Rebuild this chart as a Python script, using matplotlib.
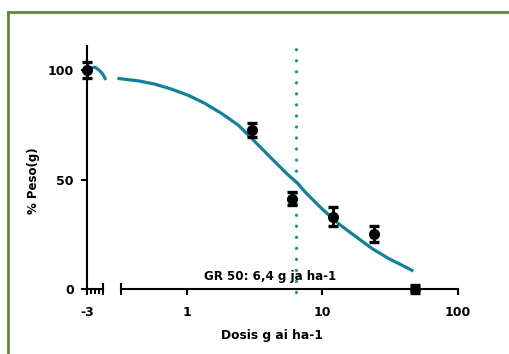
import numpy as np
import matplotlib
matplotlib.use("Agg")
import matplotlib.pyplot as plt
from matplotlib.lines import Line2D
from matplotlib.ticker import NullLocator, FixedLocator

# data (dose in g ai/ha, weight in % of control)
doses = [3, 6, 12, 24, 48]
means = [72.8, 41.3, 33.0, 25.3, 0.0]
sems = [3.2, 3.0, 4.3, 3.7, 2.0]

ctrl_x = -3        # control plotted at log10 = -3
ctrl_mean = 100
ctrl_sem = 3.5

# fitted curve
fit_x = [0.308, 0.437, 0.581, 0.771, 1.022, 1.358, 1.803, 2.39, 3.18, 4.22,
         5.59, 6.56, 7.43, 9.86, 13.1, 17.4, 23.1, 30.6, 40.6, 46.8]
fit_y = [96.2, 95.1, 93.6, 91.3, 88.5, 84.8, 80.2, 74.9, 67.3, 59.6,
         52.1, 48.3, 44.4, 36.8, 29.9, 24.2, 18.6, 14.0, 10.2, 8.2]
# short curve piece in the control segment (log10 scale)
fit0_x = [-2.9, -2.8, -2.7, -2.62, -2.57, -2.53]
fit0_y = [101.0, 101.3, 100.0, 98.5, 97.0, 95.5]

gr50 = 6.4
gr50_label = "GR 50: 6,4 g ja ha-1"

curve_col = "#13809a"
line_col = "#17a072"
frame_col = "#5b8a3a"

W, H = 509, 354
fig = plt.figure(figsize=(W / 100, H / 100), dpi=100)

ax0 = fig.add_axes([87 / W, 65 / H, 16 / W, 243 / H])
ax = fig.add_axes([121 / W, 65 / H, 337 / W, 243 / H])

font = dict(fontweight="bold", family="DejaVu Sans")
err_style = dict(fmt="o", color="k", ms=7, capsize=3.6, capthick=2.4,
                 elinewidth=2, zorder=3)

# --- left segment (control)
ax0.set_xlim(-3, -2.6)
ax0.set_ylim(0, 111)
ax0.patch.set_visible(False)
for s in ("top", "right"):
    ax0.spines[s].set_visible(False)
for s in ("left", "bottom"):
    ax0.spines[s].set_linewidth(1.5)
ax0.set_xticks([-3])
ax0.set_xticklabels(["-3"], **font, fontsize=9)
ax0.xaxis.set_minor_locator(FixedLocator([-2.9, -2.8, -2.7]))
ax0.set_yticks([0, 50, 100])
ax0.set_yticklabels(["0", "50", "100"], **font, fontsize=9)
ax0.tick_params(which="major", length=4.5, width=1.5)
ax0.tick_params(axis="x", which="major", pad=8)
ax0.tick_params(axis="y", which="major", pad=5)
ax0.tick_params(which="minor", length=3.5, width=1.5)
ax0.plot([-2.6], [0], marker="|", ms=8, mew=1.5, color="k", clip_on=False)

ax0.plot(fit0_x, fit0_y, color=curve_col, lw=2.3, clip_on=False,
         solid_capstyle="butt", solid_joinstyle="round", zorder=2)
c0 = ax0.errorbar([ctrl_x], [ctrl_mean], yerr=[ctrl_sem], **err_style)
for a in c0.get_children():
    a.set_clip_on(False)

ax0.set_ylabel("% Peso(g)", **font, fontsize=8.5)
ax0.yaxis.set_label_coords(-2.94, 0.446)

# --- main segment
ax.set_xscale("log")
ax.set_xlim(0.327, 100)
ax.set_ylim(0, 111)
ax.patch.set_visible(False)
for s in ("top", "right", "left"):
    ax.spines[s].set_visible(False)
ax.spines["bottom"].set_linewidth(1.5)
ax.set_xticks([1, 10, 100])
ax.set_xticklabels(["1", "10", "100"], **font, fontsize=9)
ax.xaxis.set_minor_locator(NullLocator())
ax.set_yticks([])
ax.tick_params(axis="x", which="major", length=4.5, width=1.5, pad=8)
ax.plot([0.327], [0], marker="|", ms=8, mew=1.5, color="k", clip_on=False)

ax.plot([gr50, gr50], [-1.5, 111], color=line_col, lw=2.4,
        dashes=(0.01, 3.3), dash_capstyle="round", clip_on=False, zorder=1)
ax.plot(fit_x, fit_y, color=curve_col, lw=2.3, clip_on=False,
        solid_capstyle="butt", solid_joinstyle="round", zorder=2)
c1 = ax.errorbar(doses, means, yerr=sems, **err_style)
for a in c1.get_children():
    a.set_clip_on(False)

ax.text(4.15, 5.8, gr50_label, ha="center", va="center", **font, fontsize=8.6)

ax.set_xlabel("Dosis g ai ha-1", **font, fontsize=8.8)
ax.xaxis.set_label_coords(0.448, -0.165)

# frame around the figure
fig.add_artist(Line2D([8 / W, 1.0], [1 - 12 / H] * 2, color=frame_col, lw=2))
fig.add_artist(Line2D([8 / W] * 2, [0, 1 - 12 / H], color=frame_col, lw=2))

fig.savefig("out.png", dpi=100)
